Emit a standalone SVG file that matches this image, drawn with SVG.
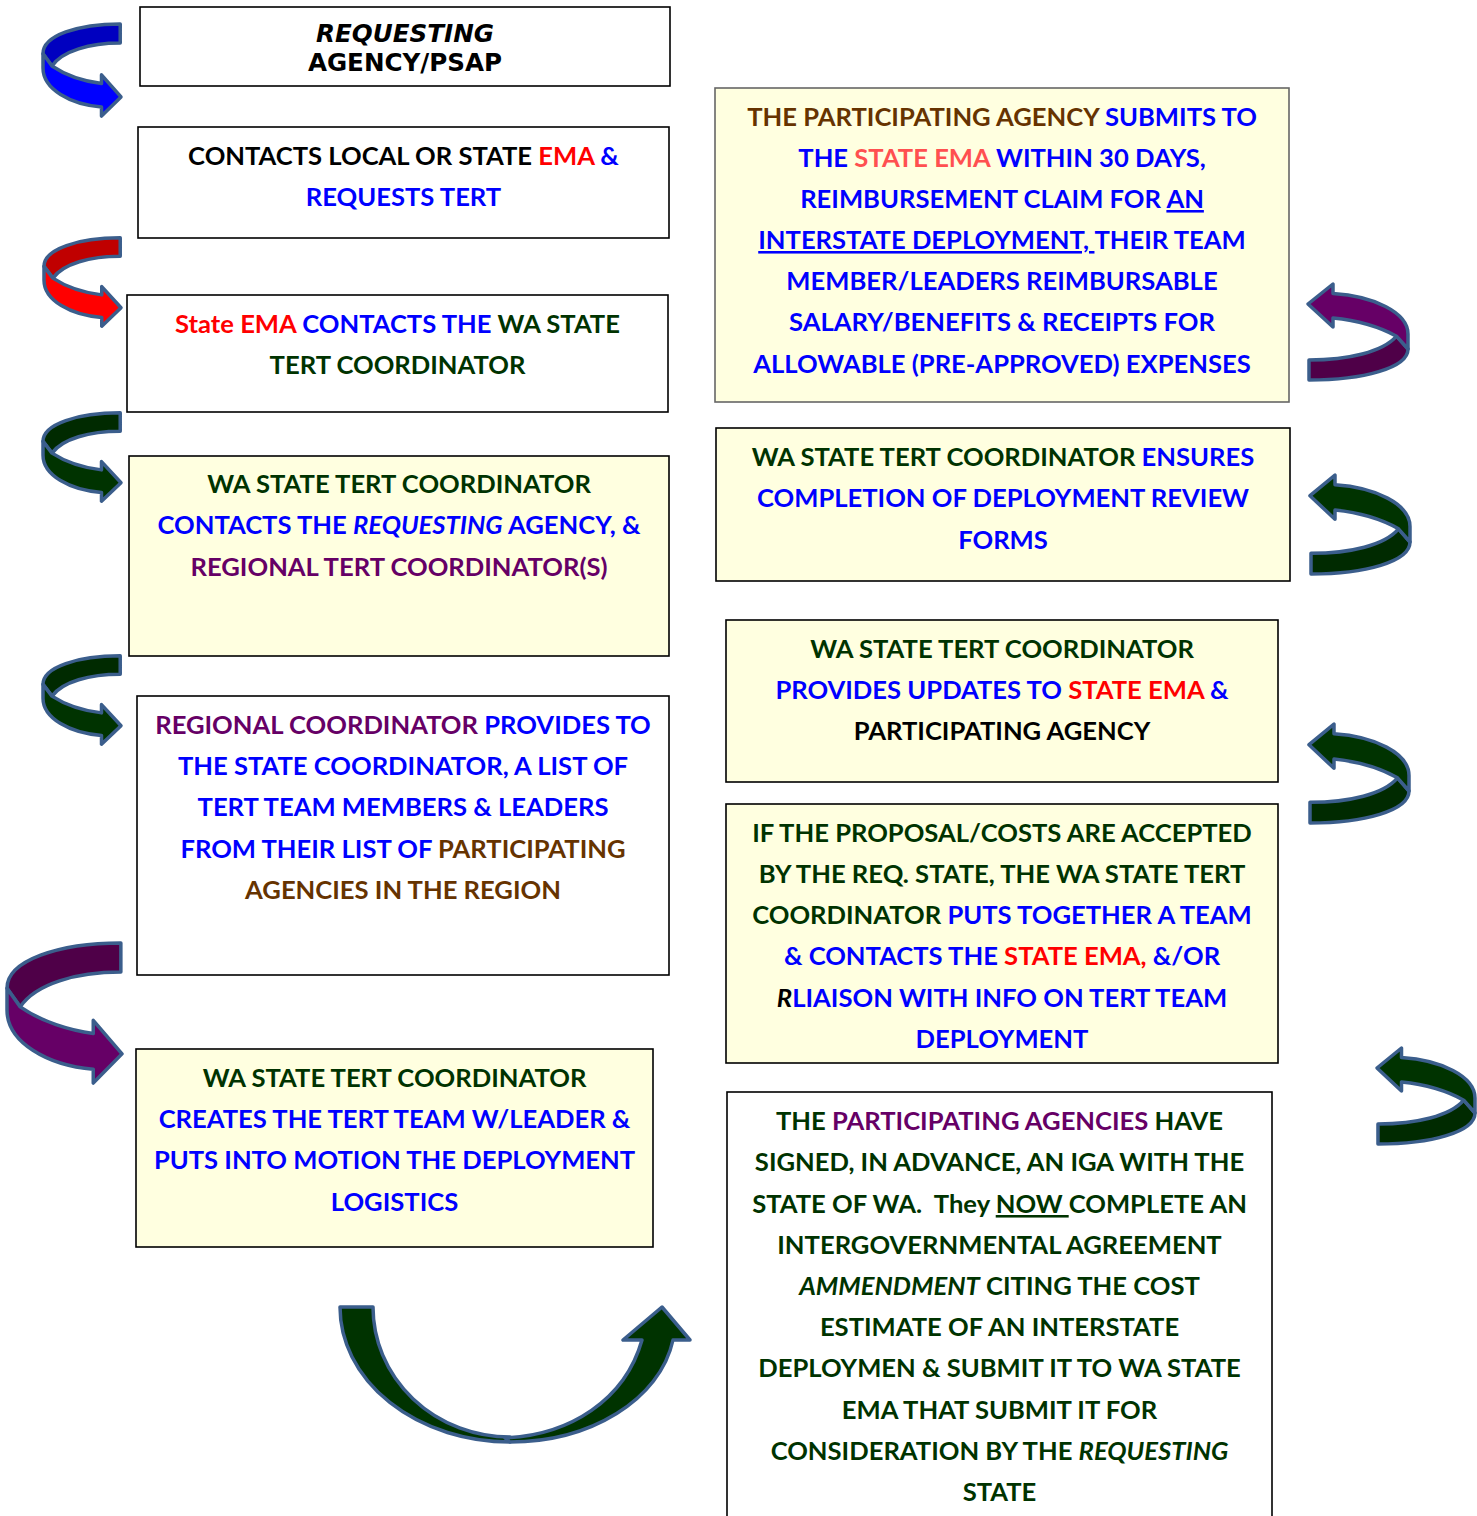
<svg xmlns="http://www.w3.org/2000/svg" xmlns:xlink="http://www.w3.org/1999/xlink" width="1477" height="1516" viewBox="0 0 1477 1516">
<style>
.t{font-family:Lato,"Liberation Sans",sans-serif;font-weight:700;font-size:25.6px;text-anchor:middle;fill:#000}
.v{font-family:"DejaVu Sans",Verdana,sans-serif;font-weight:700;font-size:24.6px;text-anchor:middle;fill:#000}
.b{fill:#0000FF}.r{fill:#FF0000}.lr{fill:#FF5050}.g{fill:#003300}.p{fill:#660066}.br{fill:#663300}.k{fill:#000}
.i{font-style:italic}.u{text-decoration:underline}
.box{stroke:#000;stroke-width:1.6}
.y{fill:#FFFFE0}.w{fill:#FFFFFF}
.arr{stroke:#3B5E8C;stroke-width:3.5;stroke-linejoin:round;vector-effect:non-scaling-stroke}
.ad{fill:var(--d)}.al{fill:var(--l)}
</style>
<defs>
<g id="carrow">
<path class="arr ad" d="M99,2 C45,2 0,14 0,33 L11.5,45.8 C25,30 60,22 99,22 Z"/>
<path class="arr al" d="M0,33 L11.5,45.8 C30,56 55,62 75,64 L75,55 L100,78 L75,98 L75,88.5 C35,86 0,70 0,48 Z"/>
</g>
</defs>

<g id="connectors">
<use xlink:href="#carrow" href="#carrow" style="--d:#0000C0;--l:#0000FF" transform="matrix(0.78,0,0,0.96,43,22)"/>
<use xlink:href="#carrow" href="#carrow" style="--d:#C00000;--l:#FF0000" transform="matrix(0.77,0,0,0.92,44,236)"/>
<use xlink:href="#carrow" href="#carrow" style="--d:#002A00;--l:#003300" transform="matrix(0.78,0,0,0.92,43,411)"/>
<use xlink:href="#carrow" href="#carrow" style="--d:#002A00;--l:#003300" transform="matrix(0.78,0,0,0.92,43,654)"/>
<use xlink:href="#carrow" href="#carrow" style="--d:#4F0048;--l:#660066" transform="matrix(1.15,0,0,1.46,7,940)"/>
<use xlink:href="#carrow" href="#carrow" style="--d:#4F0048;--l:#660066" transform="matrix(-1,0,0,-1,1408,382)"/>
<use xlink:href="#carrow" href="#carrow" style="--d:#002A00;--l:#003300" transform="matrix(-1,0,0,-1.03,1410,576)"/>
<use xlink:href="#carrow" href="#carrow" style="--d:#002A00;--l:#003300" transform="matrix(-1,0,0,-1.03,1409,825)"/>
<use xlink:href="#carrow" href="#carrow" style="--d:#002A00;--l:#003300" transform="matrix(-0.98,0,0,-1,1475,1146)"/>
<g id="u-arrow">
<path class="arr" fill="#003300" d="M340,1307 L373,1307 A137,130 0 0 0 510,1437 L510,1442 A170,135 0 0 1 340,1307 Z"/>
<path class="arr" fill="#003300" d="M505,1438 L510,1442 C590,1442 660,1400 673,1340 L690,1340 L662,1307 L623,1340 L642,1340 C625,1400 570,1435 505,1438 Z"/>
</g>
</g>

<g id="n1">
<rect class="box w" x="140" y="7" width="530" height="79"/>
<text class="v i" x="405" y="42">REQUESTING</text>
<text class="v" x="405" y="71">AGENCY/PSAP</text>
</g>

<g id="n2">
<rect class="box w" x="138" y="127" width="531" height="111"/>
<text class="t" x="403.5" y="165">CONTACTS LOCAL OR STATE <tspan class="r">EMA</tspan> <tspan class="b">&amp;</tspan></text>
<text class="t b" x="403.5" y="206">REQUESTS TERT</text>
</g>

<g id="n3">
<rect class="box w" x="127" y="295" width="541" height="117"/>
<text class="t" x="397.5" y="333"><tspan class="r">State EMA</tspan><tspan class="b"> CONTACTS THE </tspan><tspan class="g">WA STATE</tspan></text>
<text class="t g" x="397.5" y="374">TERT COORDINATOR</text>
</g>

<g id="n4">
<rect class="box y" x="129" y="456" width="540" height="200"/>
<text class="t g" x="399" y="493">WA STATE TERT COORDINATOR</text>
<text class="t b" x="399" y="534">CONTACTS THE <tspan class="i">REQUESTING</tspan> AGENCY, &amp;</text>
<text class="t p" x="399" y="576">REGIONAL TERT COORDINATOR(S)</text>
</g>

<g id="n5">
<rect class="box w" x="137" y="696" width="532" height="279"/>
<text class="t" x="403" y="734"><tspan class="p">REGIONAL COORDINATOR</tspan><tspan class="b"> PROVIDES TO</tspan></text>
<text class="t b" x="403" y="775">THE STATE COORDINATOR, A LIST OF</text>
<text class="t b" x="403" y="816">TERT TEAM MEMBERS &amp; LEADERS</text>
<text class="t" x="403" y="858"><tspan class="b">FROM THEIR LIST OF </tspan><tspan class="br">PARTICIPATING</tspan></text>
<text class="t br" x="403" y="899">AGENCIES IN THE REGION</text>
</g>

<g id="n6">
<rect class="box y" x="136" y="1049" width="517" height="198"/>
<text class="t g" x="394.5" y="1087">WA STATE TERT COORDINATOR</text>
<text class="t b" x="394.5" y="1128">CREATES THE TERT TEAM W/LEADER &amp;</text>
<text class="t b" x="394.5" y="1169">PUTS INTO MOTION THE DEPLOYMENT</text>
<text class="t b" x="394.5" y="1211">LOGISTICS</text>
</g>

<g id="n7">
<rect class="y" x="715" y="88" width="574" height="314" stroke="#666" stroke-width="1.6"/>
<text class="t" x="1002" y="126"><tspan class="br">THE PARTICIPATING AGENCY</tspan><tspan class="b"> SUBMITS TO</tspan></text>
<text class="t b" x="1002" y="167">THE <tspan class="lr">STATE EMA</tspan> WITHIN 30 DAYS,</text>
<text class="t b" x="1002" y="208">REIMBURSEMENT CLAIM FOR <tspan class="u">AN</tspan></text>
<text class="t b" x="1002" y="249" style="white-space:pre"><tspan class="u">INTERSTATE DEPLOYMENT, </tspan>THEIR TEAM</text>
<text class="t b" x="1002" y="290">MEMBER/LEADERS REIMBURSABLE</text>
<text class="t b" x="1002" y="331">SALARY/BENEFITS &amp; RECEIPTS FOR</text>
<text class="t b" x="1002" y="373">ALLOWABLE (PRE-APPROVED) EXPENSES</text>
</g>

<g id="n8">
<rect class="box y" x="716" y="428" width="574" height="153"/>
<text class="t" x="1003" y="466"><tspan class="g">WA STATE TERT COORDINATOR</tspan><tspan class="b"> ENSURES</tspan></text>
<text class="t b" x="1003" y="507">COMPLETION OF DEPLOYMENT REVIEW</text>
<text class="t b" x="1003" y="549">FORMS</text>
</g>

<g id="n9">
<rect class="box y" x="726" y="620" width="552" height="162"/>
<text class="t g" x="1002" y="658">WA STATE TERT COORDINATOR</text>
<text class="t b" x="1002" y="699">PROVIDES UPDATES TO <tspan class="r">STATE EMA</tspan> &amp;</text>
<text class="t k" x="1002" y="740">PARTICIPATING AGENCY</text>
</g>

<g id="n10">
<rect class="box y" x="726" y="804" width="552" height="259"/>
<text class="t g" x="1002" y="842">IF THE PROPOSAL/COSTS ARE ACCEPTED</text>
<text class="t g" x="1002" y="883">BY THE REQ. STATE, THE WA STATE TERT</text>
<text class="t" x="1002" y="924"><tspan class="g">COORDINATOR</tspan><tspan class="b"> PUTS TOGETHER A TEAM</tspan></text>
<text class="t b" x="1002" y="965">&amp; CONTACTS THE <tspan class="r">STATE EMA,</tspan> &amp;/OR</text>
<text class="t b" x="1002" y="1007"><tspan class="k i">R</tspan>LIAISON WITH INFO ON TERT TEAM</text>
<text class="t b" x="1002" y="1048">DEPLOYMENT</text>
</g>

<g id="n11">
<rect class="box w" x="727" y="1092" width="545" height="440"/>
<text class="t g" x="999.5" y="1130">THE <tspan class="p">PARTICIPATING AGENCIES</tspan> HAVE</text>
<text class="t g" x="999.5" y="1171">SIGNED, IN ADVANCE, AN IGA WITH THE</text>
<text class="t g" x="999.5" y="1213" style="white-space:pre">STATE OF WA.  They <tspan class="u">NOW </tspan>COMPLETE AN</text>
<text class="t g" x="999.5" y="1254">INTERGOVERNMENTAL AGREEMENT</text>
<text class="t g" x="999.5" y="1295"><tspan class="i">AMMENDMENT</tspan> CITING THE COST</text>
<text class="t g" x="999.5" y="1336">ESTIMATE OF AN INTERSTATE</text>
<text class="t g" x="999.5" y="1377">DEPLOYMEN &amp; SUBMIT IT TO WA STATE</text>
<text class="t g" x="999.5" y="1419">EMA THAT SUBMIT IT FOR</text>
<text class="t g" x="999.5" y="1460">CONSIDERATION BY THE <tspan class="i">REQUESTING</tspan></text>
<text class="t g" x="999.5" y="1501">STATE</text>
</g>
</svg>
